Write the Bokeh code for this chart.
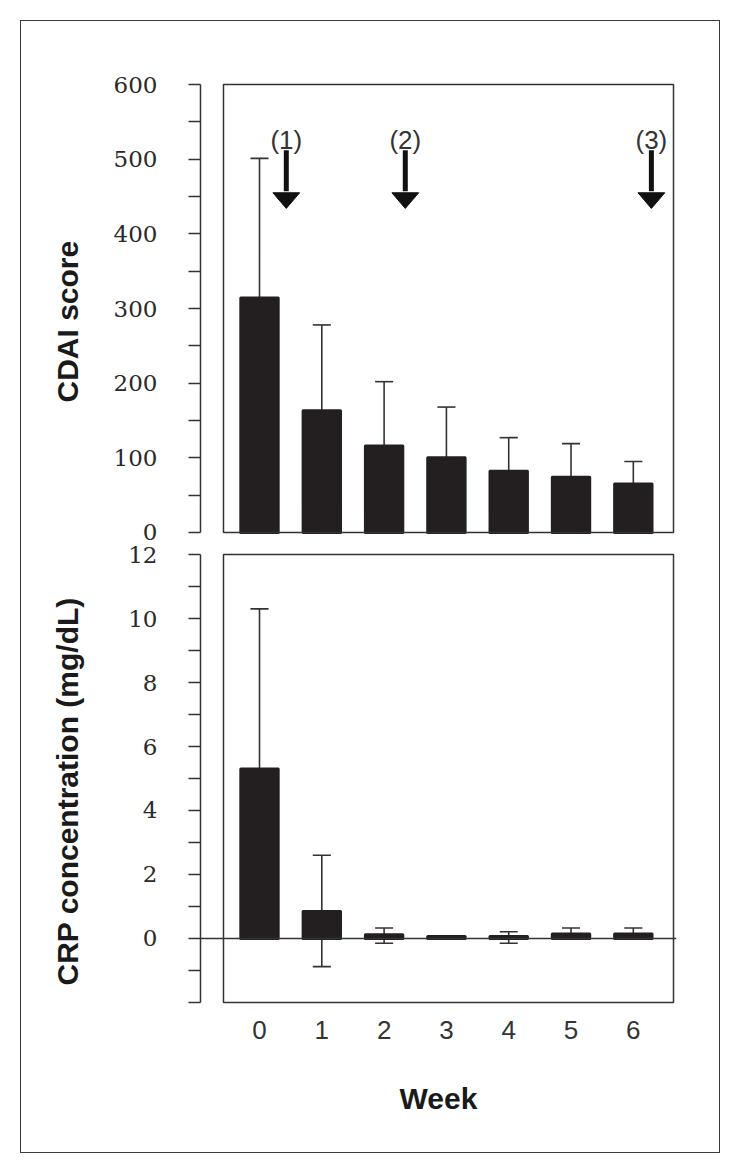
from bokeh.plotting import figure
from bokeh.models import Range1d, BoxAnnotation, Span, FixedTicker, ColumnDataSource, Title
from bokeh.layouts import column
from bokeh.embed import file_html
from bokeh.resources import INLINE
from bokeh.core.properties import value

# ---------------- data ----------------
weeks = [0, 1, 2, 3, 4, 5, 6]
week_labels = ["0", "1", "2", "3", "4", "5", "6"]
cdai_mean = [314, 163, 116, 100, 82, 74, 65]
cdai_err = [187, 115, 86, 68, 45, 45, 30]
crp_mean = [5.30, 0.84, 0.12, 0.06, 0.06, 0.14, 0.14]
crp_err_up = [5.00, 1.76, 0.21, 0.0, 0.15, 0.19, 0.19]
crp_err_down = [0.0, 1.72, 0.27, 0.0, 0.21, 0.0, 0.0]
cdai_ticks = [0, 100, 200, 300, 400, 500, 600]
cdai_minor = [50, 150, 250, 350, 450, 550]
crp_ticks = [0, 2, 4, 6, 8, 10, 12]
crp_minor = [-2, -1, 1, 3, 5, 7, 9, 11]
arrow_weeks = [0.43, 2.34, 6.29]
arrow_labels = ["(1)", "(2)", "(3)"]
arrow_top, arrow_tip, arrow_head_base, arrow_text_y = 512, 434, 455, 526

# ---------------- style ----------------
INK = "#333333"
BAR = "#231f20"
YNUM_FONT = "DejaVu Serif"
NUM_FONT = "Liberation Sans"
TITLE_FONT = "Liberation Sans"
BAR_W = 0.6
CAP_HALF = 0.145
X_RANGE = Range1d(-0.947, 6.693)
BOX_LEFT, BOX_RIGHT = -0.578, 6.645
SHIFT = 15  # pull canvases left so the plot frames line up


def style_common(p):
    p.outline_line_color = None
    p.grid.visible = False
    p.background_fill_alpha = 0
    p.border_fill_alpha = 0


def style_yaxis(p, ticks, minor, bounds, label, offset, standoff):
    ax = p.yaxis[0]
    ax.bounds = bounds
    ax.ticker = FixedTicker(ticks=ticks, minor_ticks=minor)
    ax.axis_line_color = INK
    ax.axis_line_width = 1.5
    ax.major_tick_line_color = INK
    ax.minor_tick_line_color = INK
    ax.major_tick_line_width = 1.5
    ax.minor_tick_line_width = 1.5
    ax.major_tick_out = 12
    ax.major_tick_in = 0
    ax.minor_tick_out = 12
    ax.minor_tick_in = 0
    ax.major_label_standoff = 31
    ax.major_label_text_font = YNUM_FONT
    ax.major_label_text_font_size = "23px"
    ax.major_label_text_color = "#2a2a2a"
    p.add_layout(Title(text=label, align="left", vertical_align="bottom", offset=offset,
                       standoff=standoff, text_font=TITLE_FONT, text_font_style="bold",
                       text_font_size="30px", text_color="#1a1a1a"), "left")


def add_bars_and_errors(p, means, up, down):
    xs = weeks
    stem_x = [x for x, u, d in zip(xs, up, down) if u > 0 or d > 0]
    stem_y0 = [m - d for m, u, d in zip(means, up, down) if u > 0 or d > 0]
    stem_y1 = [m + u for m, u, d in zip(means, up, down) if u > 0 or d > 0]
    p.segment(x0=stem_x, x1=stem_x, y0=stem_y0, y1=stem_y1, line_color=INK, line_width=1.6)
    cx, cy = [], []
    for x, m, u, d in zip(xs, means, up, down):
        if u > 0:
            cx.append(x); cy.append(m + u)
        if d > 0:
            cx.append(x); cy.append(m - d)
    p.segment(x0=[x - CAP_HALF for x in cx], x1=[x + CAP_HALF for x in cx], y0=cy, y1=cy,
              line_color=INK, line_width=1.6)
    src = ColumnDataSource(dict(x=xs, top=means))
    p.vbar(x="x", top="top", bottom=0, width=BAR_W, source=src, fill_color=BAR,
           line_color=BAR, line_width=3, line_join="round")


# ---------------- top panel: CDAI ----------------
p1 = figure(width=698 + SHIFT, height=536, x_range=X_RANGE, y_range=Range1d(-4.02, 604.02),
            output_backend="svg", toolbar_location=None, x_axis_location=None,
            margin=(0, 0, 0, -SHIFT),
            min_border_left=179, min_border_right=28, min_border_top=60, min_border_bottom=22)
style_common(p1)
style_yaxis(p1, cdai_ticks, cdai_minor, (0, 600), "CDAI score", 133, 54)
p1.add_layout(BoxAnnotation(left=BOX_LEFT, right=BOX_RIGHT, bottom=0, top=600,
                            fill_alpha=0, line_color=INK, line_alpha=1, line_width=1.5))
add_bars_and_errors(p1, cdai_mean, cdai_err, [0] * len(cdai_err))

# arrows
p1.segment(x0=arrow_weeks, x1=arrow_weeks, y0=[arrow_top] * 3, y1=[arrow_head_base + 2] * 3,
           line_color="#111111", line_width=5)
hw = 0.215
p1.patches(xs=[[a - hw, a + hw, a] for a in arrow_weeks],
           ys=[[arrow_head_base, arrow_head_base, arrow_tip] for a in arrow_weeks],
           fill_color="#111111", line_color="#111111", line_width=1)
p1.text(x=arrow_weeks, y=[arrow_text_y] * 3, text=arrow_labels, text_align="center",
        text_baseline="middle", text_font=value(NUM_FONT), text_font_size="26px", text_color=INK)

# ---------------- bottom panel: CRP ----------------
p2 = figure(width=698 + SHIFT, height=615, x_range=X_RANGE, y_range=Range1d(-2.094, 12.094),
            output_backend="svg", toolbar_location=None, margin=(-20, 0, 0, -SHIFT),
            min_border_left=179, min_border_right=28, min_border_top=14, min_border_bottom=147)
style_common(p2)
style_yaxis(p2, crp_ticks, crp_minor, (-2, 12), "CRP concentration (mg/dL)", 20, 84)
p2.add_layout(BoxAnnotation(left=BOX_LEFT, right=BOX_RIGHT, bottom=-2, top=12,
                            fill_alpha=0, line_color=INK, line_alpha=1, line_width=1.5))
xa = p2.xaxis[0]
xa.ticker = FixedTicker(ticks=weeks)
xa.major_label_overrides = {w: l for w, l in zip(weeks, week_labels)}
xa.axis_line_color = None
xa.major_tick_line_color = None
xa.minor_tick_line_color = None
xa.major_label_standoff = 9
xa.major_label_text_font = NUM_FONT
xa.major_label_text_font_size = "26px"
xa.major_label_text_color = INK
xa.axis_label = "Week"
xa.axis_label_text_font = TITLE_FONT
xa.axis_label_text_font_style = "bold"
xa.axis_label_text_font_size = "30px"
xa.axis_label_text_color = "#1a1a1a"
xa.axis_label_standoff = 40
add_bars_and_errors(p2, crp_mean, crp_err_up, crp_err_down)
p2.add_layout(Span(location=0, dimension="width", line_color=INK, line_width=1.3))

layout = column(p1, p2, margin=(20, 0, 0, 20),
                styles={"border": "1.5px solid #3c3c3c", "background-color": "white"})

open("out.html", "w").write(file_html(layout, INLINE))
